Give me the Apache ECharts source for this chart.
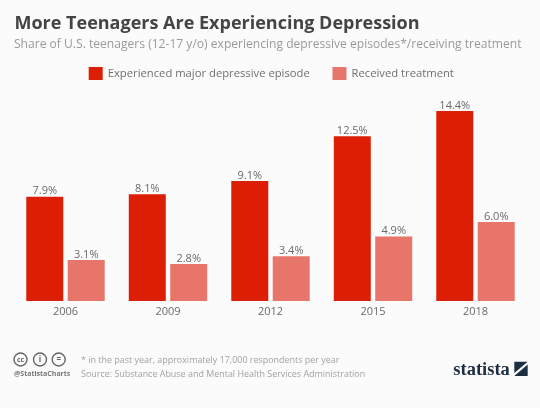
<!DOCTYPE html>
<html><head><meta charset="utf-8">
<style>html,body{margin:0;padding:0;background:#fbfbfb}#c{width:540px;height:408px}</style>
<script src="https://cdn.jsdelivr.net/npm/echarts@6/dist/echarts.min.js"></script></head>
<body><div id="c"></div>
<script>
const categories = ['2006','2009','2012','2015','2018'];
const depressive = [7.9,8.1,9.1,12.5,14.4];
const treatment = [3.1,2.8,3.4,4.9,6.0];
const names = ['Experienced major depressive episode','Received treatment'];
const F = '"Open Sans"';
const chart = echarts.init(document.getElementById('c'),null,{renderer:'canvas'});
const lbl = {show:true,position:'top',distance:0,color:'#6a6a6a',fontFamily:F,fontSize:11,formatter:p=>p.value.toFixed(1)+'%'};
function cc(x,label,fs){
  return [{type:'circle',shape:{cx:x,cy:359.5,r:6.5},style:{fill:'none',stroke:'#666',lineWidth:1.4}},
          {type:'text',style:{x:x,y:359.5,text:label,align:'center',verticalAlign:'middle',fill:'#666',font:'bold '+fs+'px "Open Sans"'}}];
}
function txt(x,y,text,fill,font){
  return {type:'text',style:{x:x,y:y,text:text,fill:fill,font:font,verticalAlign:'middle'}};
}
chart.setOption({
  backgroundColor:'#fbfbfb',animation:false,
  title:[
    {text:'More Teenagers Are Experiencing Depression',left:14.5,top:15,padding:0,textStyle:{fontFamily:F,fontWeight:700,fontSize:18,color:'#444'}},
    {text:'Share of U.S. teenagers (12-17 y/o) experiencing depressive episodes*/receiving treatment',left:14,top:38.5,padding:0,textStyle:{fontFamily:F,fontWeight:400,fontSize:12.08,color:'#9a9a9a'}}
  ],
  legend:{left:88.7,top:67,padding:0,itemWidth:14,itemHeight:13,itemGap:22.7,icon:'rect',data:names,textStyle:{fontFamily:F,fontSize:11.25,color:'#6f6f6f'}},
  grid:{left:14.25,width:512.5,top:90,height:211,containLabel:false},
  xAxis:{type:'category',data:categories,axisLine:{show:false},axisTick:{show:false},axisLabel:{color:'#6a6a6a',fontFamily:F,fontSize:11,margin:5.5}},
  yAxis:{type:'value',min:0,max:16,show:false,splitLine:{show:false}},
  series:[
    {name:names[0],type:'bar',data:depressive,barWidth:37,barGap:'12%',itemStyle:{color:'#dc1e04'},label:lbl},
    {name:names[1],type:'bar',data:treatment,barWidth:37,itemStyle:{color:'#e8756a'},label:lbl}
  ],
  graphic:[
    ...cc(20.5,'cc',7),...cc(40,'i',8),...cc(58.7,'=',8),
    txt(14,374,'@StatistaCharts','#777','bold 7px "Open Sans"'),
    txt(81,360,'* in the past year, approximately 17,000 respondents per year','#a2a2a2','8.95px "Open Sans"'),
    txt(81,374,'Source: Substance Abuse and Mental Health Services Administration','#a2a2a2','8.95px "Open Sans"'),
    txt(453.3,370,'statista','#1c2f42','bold 18.5px "Liberation Sans Narrow"'),
    {type:'polygon',shape:{points:[[514.3,361.7],[527.7,361.7],[514.3,373]]},style:{fill:'#1c2f42'}},
    {type:'polygon',shape:{points:[[527.7,364.5],[527.7,376],[514.3,376]]},style:{fill:'#1c2f42'}}
  ]
});
</script></body></html>
